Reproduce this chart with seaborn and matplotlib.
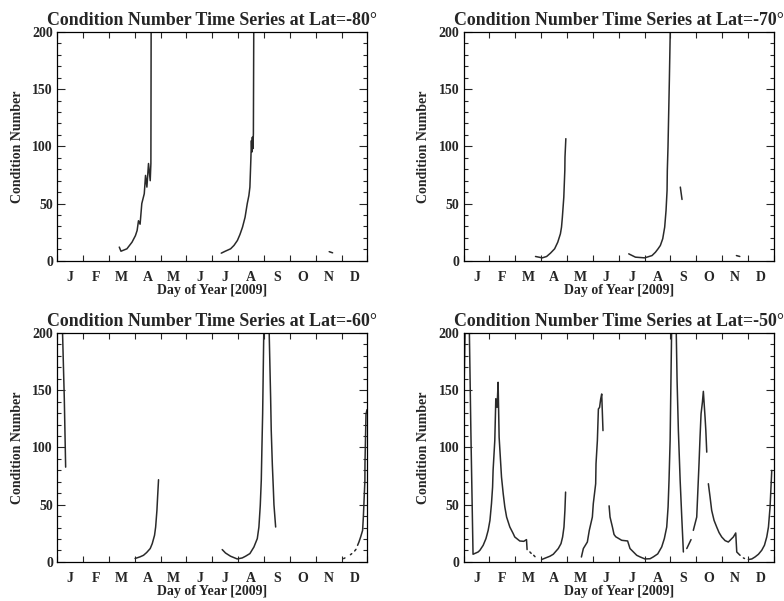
import numpy as np
import pandas as pd
import matplotlib
matplotlib.use("Agg")
import matplotlib.pyplot as plt
import seaborn as sns

nan = np.nan

months = ["J", "F", "M", "A", "M", "J", "J", "A", "S", "O", "N", "D"]
titles = ["Condition Number Time Series at Lat=-80°",
          "Condition Number Time Series at Lat=-70°",
          "Condition Number Time Series at Lat=-60°",
          "Condition Number Time Series at Lat=-50°"]

lat80_day = [73, 75, 82, 88, 92, 94, 95.6, 97.5, 99.5, 102.4, 103.9, 105.5, 107.4, 109.4, 110.2, 111,
             nan, 193, 198, 204, 208, 212, 215, 218, 221, 223.6, 225.5, 226.7, 227.8, 228.5, 229, 229.6,
             230.2, 230.8, 232.2,
             nan, 320, 324]
lat80_val = [12, 8.4, 10.5, 16.3, 22, 26.5, 35, 32, 50, 58.6, 74.6, 64.4, 85, 70, 85, 400,
             nan, 6.7, 8.5, 10.5, 13.5, 17.8, 23, 29.4, 38, 50, 57, 64.4, 88, 105, 95, 108,
             98, 111, 400,
             nan, 8, 7]

lat70_day = [84.6, 92.5, 97.7, 102.2, 107.1, 110.8, 113.9, 115.2, 116.2, 117.9, 118.5, 119.1, 119.3, 120.3,
             nan, 194.3, 202.2, 213.1, 221.7, 225.7, 228.8, 231.5, 234.3, 236.6, 238.2, 239.4, 239.7,
             240.5, 241.3, 242.1, 243.5,
             nan, 255, 257,
             nan, 321, 325]
lat70_val = [3.8, 2.6, 3.8, 6.7, 10.5, 16.3, 23.6, 29.4, 38, 55.6, 67.4, 79, 90.6, 106.7,
             nan, 6.1, 3.2, 2.6, 4.6, 7.5, 10.5, 13.4, 19.3, 29.4, 44, 61.5, 79,
             99.4, 128.6, 157.7, 215,
             nan, 64.4, 53.6,
             nan, 4.6, 3.8]

lat60_day = [5.9, 8.3, 9.9,
             nan, 91.6, 97.3, 101.5, 105.2, 109.4, 111.8, 114.5, 115.8, 117.3, 118.1, 119.2,
             nan, 194.1, 198, 203.9, 211.8, 217.7, 221.6, 226.7, 231.4, 235.4, 237.3, 238.9, 240.1,
             240.8, 241.7, 243.2, 246, 249.1, 250.2, 251.1, 251.8, 253.1, 254.2, 255, 256.1, 257,
             nan, 337, 338.5, nan, 345, 346.5, nan, 350, 351.5,
             nan, 353.4, 355, 357, 359.3, 360.2, 362, 362.1, 363.3, 364.5]
lat60_val = [210, 143, 82.8,
             nan, 3, 4.4, 5.8, 8.2, 11.7, 16, 23.3, 30.5, 45, 56.7, 71.8,
             nan, 10.8, 7.8, 5, 2.6, 3.5, 5, 7.3, 13, 20.4, 30.5, 49.4, 71.4,
             98.3, 129.5, 210, 2000, 210, 173, 143, 115, 85, 65.4, 50, 39.2, 30.5,
             nan, 2.9, 3.5, nan, 6.3, 7.2, nan, 9.6, 11,
             nan, 14.5, 17.4, 21.8, 27.5, 39.2, 71, 85.8, 129, 133]

lat50_day = [0.5, 1.9, 4.2, 6.6, 8.6, 11.1, 17.1, 19.2, 23, 26.3, 28.9, 31, 32.8, 34.1, 34.7, 36.7,
             37.9, 39.4, 40.6, 41.8, 44.6, 46.6, 48.5, 50.6, 54.4, 58.4, 60.2, 66.1, 70.8, 74, 74.7,
             nan, 78, 79.5, nan, 82.5, 84,
             nan, 91.8, 101.6, 105.5, 111.4, 114.6, 116.5, 118.1, 119.2, 120,
             nan, 138.6, 140.9, 145.6, 147.9, 151.5, 152.6, 155.4, 155.8, 157.4, 158.6, 160, 161.3,
             162.5, 164,
             nan, 171.2, 172.3, 175.1, 177, 179, 186, 193, 195.8, 203.7, 207.6, 213.4, 219.4, 223.2,
             228.4, 233.1, 236.2, 239, 240.6, 241.7, 243, 243.7,
             244.9, 247.5, 250, 251.2, 252.7, 254.8, 256.7, 258.6,
             nan, 262.6, 267.6,
             nan, 270.3, 274.3, 277, 278.2, 279.4, 281, 282.1, 284.1, 285, 286.1,
             nan, 288, 290, 291.9, 294.7, 297.8, 300.6, 303.7, 307.7, 311.5, 317.4, 320.2, 321.4, 325.3,
             nan, 329.2, 330.5,
             nan, 335.1, 339.1, 343, 346.9, 350.8, 354, 356.7, 358.7, 360.6, 361.5, 362.6]
lat50_val = [150, 210, 2000, 210, 112, 6.7, 8.7, 10.2, 14.5, 20.4, 27.6, 36.3, 50.9, 65.4, 80, 106,
             142.5, 135, 156.9, 109, 74.1, 59.6, 48, 39.2, 30.5, 24.7, 21.8, 18.3, 18, 19.5, 10.8,
             nan, 8.7, 7.5, nan, 5.8, 4.6,
             nan, 2.1, 5, 6.7, 11.7, 16, 21.8, 30.5, 45, 61,
             nan, 4.3, 11.7, 17.4, 27.6, 39.2, 50.9, 68.3, 85.8, 106, 133.6, 135, 142.3,
             146.7, 114.7,
             nan, 49, 39.2, 30.5, 24, 22, 18.9, 18.3, 11.7, 5.8, 4.4, 2.6, 2.8, 4.4,
             7, 13.1, 20.4, 30.5, 48, 71.2, 106, 143.9,
             210, 2000, 210, 158, 115, 71.2, 39, 8.7,
             nan, 11.7, 19.5,
             nan, 27.6, 39.2, 85.8, 109, 129.4, 139.5, 149, 126.4, 115, 95.9,
             nan, 68.3, 56.7, 45, 36.3, 30.5, 25.6, 21.8, 18.6, 17.4, 21.8, 25.3, 8.7, 5.8,
             nan, 3.5, 3,
             nan, 2.1, 2.6, 4.4, 6.7, 10.2, 14.6, 21.8, 30.5, 48, 62.5, 80]

panels = [(lat80_day, lat80_val), (lat70_day, lat70_val),
          (lat60_day, lat60_val), (lat50_day, lat50_val)]


def to_frame(days, vals):
    d = np.asarray(days, float)
    v = np.asarray(vals, float)
    seg = np.cumsum(np.isnan(d))
    df = pd.DataFrame({"day": d, "val": v, "seg": seg})
    return df.dropna()


sns.set_style("ticks")
plt.rcParams["font.family"] = ["Liberation Serif", "DejaVu Serif"]
plt.rcParams["font.weight"] = "bold"

fig, axes = plt.subplots(2, 2, figsize=(7.84, 6.01), dpi=100)
fig.subplots_adjust(left=0.073, right=0.987, bottom=0.065, top=0.947,
                    wspace=0.31, hspace=0.315)

month_len = 365 / 12
bounds = np.arange(13) * month_len
centers = bounds[:-1] + month_len / 2

for ax, (days, vals), title in zip(axes.flat, panels, titles):
    df = to_frame(days, vals)
    sns.lineplot(data=df, x="day", y="val", units="seg", estimator=None,
                 color="#2a2a2a", linewidth=1.1, sort=False, ax=ax, legend=False)
    ax.set_xlim(0, 365)
    ax.set_ylim(0, 200)
    ax.set_xticks(bounds)
    ax.set_xticklabels([])
    ax.set_xticks(centers, minor=True)
    ax.set_xticklabels(months, minor=True, fontsize=10, fontweight="bold")
    ax.tick_params(axis="x", which="minor", length=0, pad=7)
    ax.tick_params(axis="x", which="major", direction="in", length=4,
                   top=True, bottom=True, width=0.8)
    ax.set_yticks([0, 50, 100, 150, 200])
    ax.set_yticklabels(["0", "50", "100", "150", "200"], fontsize=10, fontweight="bold")
    ax.set_yticks(np.arange(0, 201, 10), minor=True)
    ax.tick_params(axis="y", which="major", direction="in", length=6,
                   left=True, right=True, width=0.8, pad=3)
    ax.tick_params(axis="y", which="minor", direction="in", length=3,
                   left=True, right=True, width=0.8)
    for s in ax.spines.values():
        s.set_visible(True)
        s.set_linewidth(0.9)
        s.set_color("black")
    ax.set_xlabel("Day of Year [2009]", fontsize=10, fontweight="bold", labelpad=0)
    ax.set_ylabel("Condition Number", fontsize=10, fontweight="bold", labelpad=6)
    ax.set_title(title, fontsize=12.9, fontweight="bold", pad=5)

fig.savefig("out.png", dpi=100)
